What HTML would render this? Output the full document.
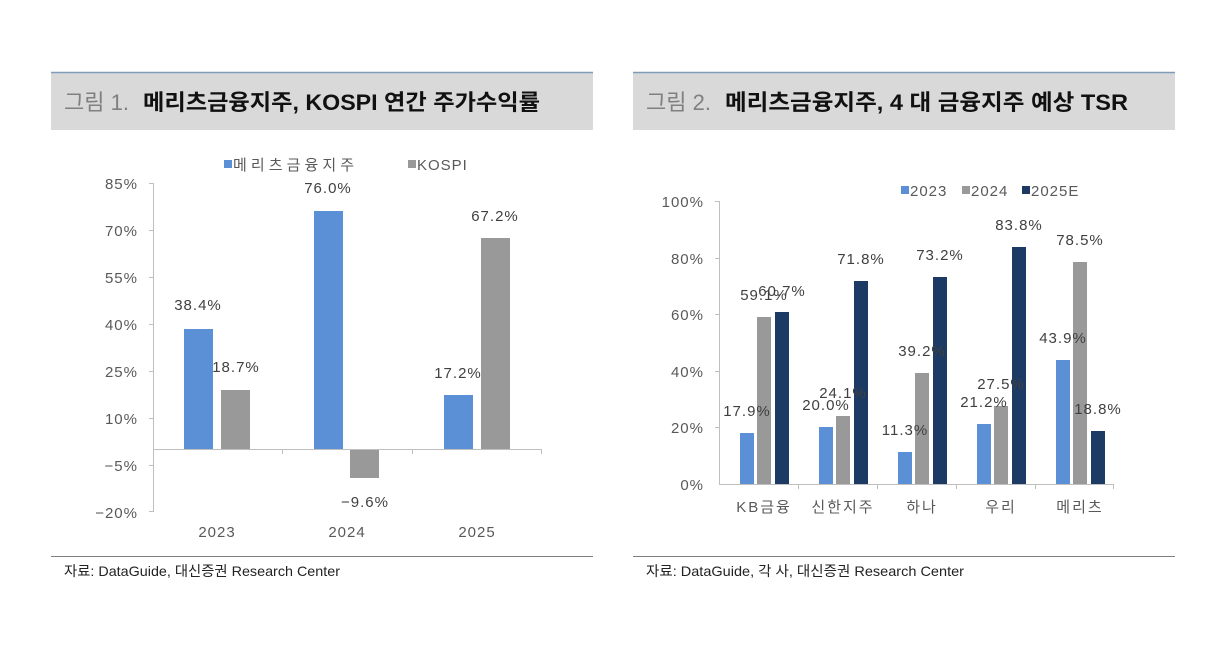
<!DOCTYPE html><html><head><meta charset="utf-8"><style>
body{margin:0;width:1223px;height:645px;background:#fff;overflow:hidden;font-family:"Liberation Sans","Noto Sans CJK KR",sans-serif}
</style></head><body>
<svg width="1223" height="645" xmlns="http://www.w3.org/2000/svg" font-family="Liberation Sans, Noto Sans CJK KR, sans-serif">
<!-- Left panel -->
<rect x="51" y="72" width="542" height="58" fill="#d9d9d9"/>
<line x1="51" y1="72.5" x2="593" y2="72.5" stroke="#7f9db9" stroke-width="1.5"/>
<text x="64" y="110" font-size="22" fill="#808080">그림 1.</text>
<text x="143" y="110" font-size="22" font-weight="bold" fill="#111" textLength="397" lengthAdjust="spacingAndGlyphs">메리츠금융지주, KOSPI 연간 주가수익률</text>
<g font-size="15" fill="#595959" letter-spacing="1">
<rect x="224" y="160" width="8" height="8" fill="#5b8fd6"/><text x="233" y="170" textLength="122" lengthAdjust="spacing">메리츠금융지주</text>
<rect x="408" y="160" width="8" height="8" fill="#999"/><text x="417" y="170">KOSPI</text>
<g text-anchor="end"><text x="138" y="189">85%</text><text x="138" y="236">70%</text><text x="138" y="283">55%</text><text x="138" y="330">40%</text><text x="138" y="377">25%</text><text x="138" y="424">10%</text><text x="138" y="471">−5%</text><text x="138" y="518">−20%</text></g>
</g>
<line x1="153.5" y1="183" x2="153.5" y2="512" stroke="#bfbfbf"/>
<g stroke="#bfbfbf"><line x1="149" y1="183.5" x2="153" y2="183.5"/><line x1="149" y1="230.5" x2="153" y2="230.5"/><line x1="149" y1="277.5" x2="153" y2="277.5"/><line x1="149" y1="324.5" x2="153" y2="324.5"/><line x1="149" y1="371.5" x2="153" y2="371.5"/><line x1="149" y1="418.5" x2="153" y2="418.5"/><line x1="149" y1="465.5" x2="153" y2="465.5"/><line x1="149" y1="511.5" x2="153" y2="511.5"/>
<line x1="153" y1="449.5" x2="542" y2="449.5"/><line x1="282.5" y1="449" x2="282.5" y2="454"/><line x1="412.5" y1="449" x2="412.5" y2="454"/><line x1="541.5" y1="449" x2="541.5" y2="454"/></g>
<rect x="184" y="329" width="29" height="120" fill="#5b8fd6"/>
<rect x="221" y="390" width="29" height="59" fill="#999"/>
<rect x="314" y="211" width="29" height="238" fill="#5b8fd6"/>
<rect x="350" y="450" width="29" height="28" fill="#999"/>
<rect x="444" y="395" width="29" height="54" fill="#5b8fd6"/>
<rect x="481" y="238" width="29" height="211" fill="#999"/>
<g font-size="15" fill="#404040" text-anchor="middle" letter-spacing="1">
<text x="198" y="310">38.4%</text><text x="236" y="372">18.7%</text>
<text x="328" y="193">76.0%</text><text x="365" y="507">−9.6%</text>
<text x="458" y="378">17.2%</text><text x="495" y="221">67.2%</text>
<text x="217" y="537" fill="#595959">2023</text><text x="347" y="537" fill="#595959">2024</text><text x="477" y="537" fill="#595959">2025</text>
</g>
<line x1="51" y1="556.5" x2="593" y2="556.5" stroke="#808080"/>
<text x="64" y="576" font-size="14" fill="#222" textLength="276" lengthAdjust="spacingAndGlyphs">자료: DataGuide, 대신증권 Research Center</text>

<!-- Right panel -->
<rect x="633" y="72" width="542" height="58" fill="#d9d9d9"/>
<line x1="633" y1="72.5" x2="1175" y2="72.5" stroke="#7f9db9" stroke-width="1.5"/>
<text x="646" y="110" font-size="22" fill="#808080">그림 2.</text>
<text x="725" y="110" font-size="22" font-weight="bold" fill="#111" textLength="403" lengthAdjust="spacingAndGlyphs">메리츠금융지주, 4 대 금융지주 예상 TSR</text>
<g font-size="15" fill="#595959" letter-spacing="1">
<rect x="901" y="186" width="8" height="8" fill="#5b8fd6"/><text x="910" y="196">2023</text>
<rect x="962" y="186" width="8" height="8" fill="#999"/><text x="971" y="196">2024</text>
<rect x="1022" y="186" width="8" height="8" fill="#1c3a63"/><text x="1031" y="196">2025E</text>
<g text-anchor="end"><text x="704" y="207">100%</text><text x="704" y="264">80%</text><text x="704" y="320">60%</text><text x="704" y="377">40%</text><text x="704" y="433">20%</text><text x="704" y="490">0%</text></g>
</g>
<g stroke="#bfbfbf"><line x1="719.5" y1="201" x2="719.5" y2="484"/>
<line x1="715" y1="201.5" x2="719" y2="201.5"/><line x1="715" y1="258.5" x2="719" y2="258.5"/><line x1="715" y1="314.5" x2="719" y2="314.5"/><line x1="715" y1="371.5" x2="719" y2="371.5"/><line x1="715" y1="427.5" x2="719" y2="427.5"/>
<line x1="719" y1="484.5" x2="1113" y2="484.5"/>
<line x1="798.5" y1="484" x2="798.5" y2="489"/><line x1="877.5" y1="484" x2="877.5" y2="489"/><line x1="956.5" y1="484" x2="956.5" y2="489"/><line x1="1035.5" y1="484" x2="1035.5" y2="489"/><line x1="1113.5" y1="484" x2="1113.5" y2="489"/></g>
<g>
<rect x="740" y="433" width="14" height="51" fill="#5b8fd6"/><rect x="757" y="317" width="14" height="167" fill="#999"/><rect x="775" y="312" width="14" height="172" fill="#1c3a63"/>
<rect x="819" y="427" width="14" height="57" fill="#5b8fd6"/><rect x="836" y="416" width="14" height="68" fill="#999"/><rect x="854" y="281" width="14" height="203" fill="#1c3a63"/>
<rect x="898" y="452" width="14" height="32" fill="#5b8fd6"/><rect x="915" y="373" width="14" height="111" fill="#999"/><rect x="933" y="277" width="14" height="207" fill="#1c3a63"/>
<rect x="977" y="424" width="14" height="60" fill="#5b8fd6"/><rect x="994" y="406" width="14" height="78" fill="#999"/><rect x="1012" y="247" width="14" height="237" fill="#1c3a63"/>
<rect x="1056" y="360" width="14" height="124" fill="#5b8fd6"/><rect x="1073" y="262" width="14" height="222" fill="#999"/><rect x="1091" y="431" width="14" height="53" fill="#1c3a63"/>
</g>
<g font-size="15" fill="#404040" text-anchor="middle" letter-spacing="1">
<text x="747" y="416">17.9%</text><text x="764" y="300">59.1%</text><text x="782" y="296">60.7%</text>
<text x="826" y="410">20.0%</text><text x="843" y="398">24.1%</text><text x="861" y="264">71.8%</text>
<text x="905" y="435">11.3%</text><text x="922" y="356">39.2%</text><text x="940" y="260">73.2%</text>
<text x="984" y="407">21.2%</text><text x="1001" y="389">27.5%</text><text x="1019" y="230">83.8%</text>
<text x="1063" y="343">43.9%</text><text x="1080" y="245">78.5%</text><text x="1098" y="414">18.8%</text>
<g fill="#595959" letter-spacing="2"><text x="764" y="512">KB금융</text><text x="843" y="512">신한지주</text><text x="922" y="512">하나</text><text x="1001" y="512">우리</text><text x="1080" y="512">메리츠</text></g>
</g>
<line x1="633" y1="556.5" x2="1175" y2="556.5" stroke="#808080"/>
<text x="646" y="576" font-size="14" fill="#222" textLength="318" lengthAdjust="spacingAndGlyphs">자료: DataGuide, 각 사, 대신증권 Research Center</text>
</svg>
</body></html>
